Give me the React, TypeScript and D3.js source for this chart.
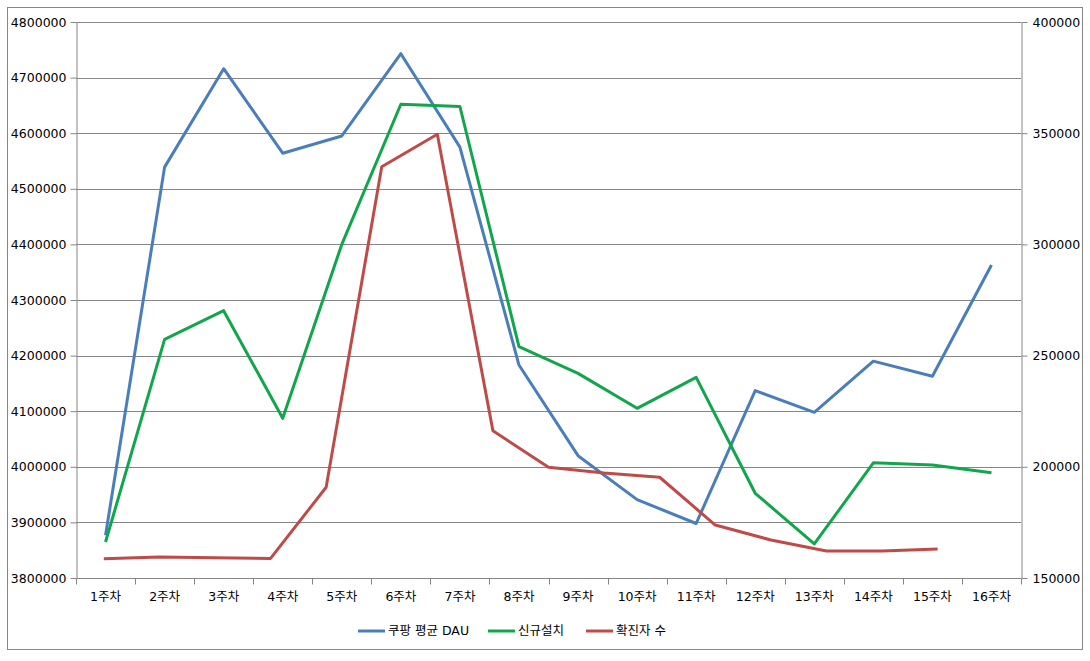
import { useEffect, useRef } from "react";
import * as d3 from "d3";

const WEEKS = [
  "1주차", "2주차", "3주차", "4주차", "5주차", "6주차", "7주차", "8주차",
  "9주차", "10주차", "11주차", "12주차", "13주차", "14주차", "15주차", "16주차",
];

// left axis
const DAU = [
  3877000, 4539000, 4716000, 4564000, 4595000, 4743000, 4575000, 4183000,
  4020000, 3941000, 3898000, 4137000, 4098000, 4190000, 4163000, 4363000,
];

// right axis
const INSTALLS = [
  166200, 257300, 270200, 221800, 300000, 363000, 362000, 254000,
  242000, 226300, 240200, 188100, 165300, 201800, 200800, 197300,
];

// right axis, drawn on a secondary category axis with 17 slots
const CASES = [
  158700, 159400, 159100, 158800, 190800, 334900, 349500, 216200,
  199800, 197200, 195300, 173800, 167100, 162100, 162100, 163000,
];
const CASE_SLOTS = 17;

const LEFT_TICKS = [3800000, 3900000, 4000000, 4100000, 4200000, 4300000, 4400000, 4500000, 4600000, 4700000, 4800000];
const RIGHT_TICKS = [150000, 200000, 250000, 300000, 350000, 400000];

const SERIES = [
  { name: "쿠팡 평균 DAU", color: "#4a7ebb" },
  { name: "신규설치", color: "#12a64c" },
  { name: "확진자 수", color: "#be4b48" },
];

const FONT = "'DejaVu Sans', 'Noto Sans CJK KR', sans-serif";

export default function App() {
  const svgRef = useRef<SVGSVGElement>(null);

  useEffect(() => {
    document.body.style.margin = "0";
    if (!svgRef.current) return;
    const svg = d3.select(svgRef.current);
    svg.selectAll("*").remove();

    const width = 1090;
    const height = 661;
    const margin = { top: 22, right: 69, bottom: 83, left: 76 };
    const gray = "#868686";

    svg.append("rect")
      .attr("x", 7.5).attr("y", 7.5)
      .attr("width", 1075).attr("height", 642)
      .attr("fill", "#fff").attr("stroke", gray).attr("stroke-width", 1);

    const x = d3.scaleBand<string>()
      .domain(WEEKS)
      .range([margin.left, width - margin.right]);

    const xCases = d3.scaleBand<number>()
      .domain(d3.range(CASE_SLOTS))
      .range([margin.left, width - margin.right]);

    const yLeft = d3.scaleLinear()
      .domain([3800000, 4800000])
      .range([height - margin.bottom, margin.top]);

    const yRight = d3.scaleLinear()
      .domain([150000, 400000])
      .range([height - margin.bottom, margin.top]);

    // gridlines
    svg.append("g")
      .selectAll("line")
      .data(LEFT_TICKS.slice(1))
      .join("line")
      .attr("x1", margin.left).attr("x2", width - margin.right)
      .attr("y1", (d) => Math.round(yLeft(d)) + 0.5)
      .attr("y2", (d) => Math.round(yLeft(d)) + 0.5)
      .attr("stroke", gray);

    const styleAxis = (g: d3.Selection<SVGGElement, unknown, null, undefined>) => {
      g.select(".domain").attr("stroke", gray);
      g.selectAll(".tick line").attr("stroke", gray);
      g.selectAll(".tick text").attr("fill", "#000").attr("font-family", FONT).attr("font-size", "12.5px");
    };

    // left axis
    svg.append("g")
      .attr("transform", `translate(${margin.left + 0.5},0)`)
      .call(d3.axisLeft(yLeft).tickValues(LEFT_TICKS).tickFormat((d) => String(d)).tickSize(6).tickSizeOuter(0).tickPadding(4))
      .call(styleAxis)
      .call((g) => g.selectAll(".tick text").attr("text-anchor", "end"));

    // right axis
    svg.append("g")
      .attr("transform", `translate(${width - margin.right + 0.5},0)`)
      .call(d3.axisRight(yRight).tickValues(RIGHT_TICKS).tickFormat((d) => String(d)).tickSize(6).tickSizeOuter(0).tickPadding(5))
      .call(styleAxis);

    // bottom axis
    const xAxis = svg.append("g")
      .attr("transform", `translate(0,${height - margin.bottom + 0.5})`)
      .call(d3.axisBottom(x).tickSize(0).tickPadding(14))
      .call(styleAxis);
    xAxis.select(".domain").remove();
    xAxis.append("line")
      .attr("x1", margin.left).attr("x2", width - margin.right)
      .attr("stroke", gray);
    xAxis.selectAll(".boundary")
      .data(d3.range(WEEKS.length + 1))
      .join("line")
      .attr("class", "boundary")
      .attr("x1", (i) => Math.round(margin.left + i * x.step()) + 0.5)
      .attr("x2", (i) => Math.round(margin.left + i * x.step()) + 0.5)
      .attr("y1", 0).attr("y2", 6)
      .attr("stroke", gray);

    // lines
    const dauLine = d3.line<number>()
      .x((_, i) => x(WEEKS[i])! + x.bandwidth() / 2)
      .y((d) => yLeft(d));
    const installLine = d3.line<number>()
      .x((_, i) => x(WEEKS[i])! + x.bandwidth() / 2)
      .y((d) => yRight(d));
    const caseLine = d3.line<number>()
      .x((_, i) => xCases(i)! + xCases.bandwidth() / 2)
      .y((d) => yRight(d));

    const plots: [number[], d3.Line<number>, string][] = [
      [DAU, dauLine, SERIES[0].color],
      [INSTALLS, installLine, SERIES[1].color],
      [CASES, caseLine, SERIES[2].color],
    ];
    plots.forEach(([vals, gen, color]) => {
      svg.append("path")
        .datum(vals)
        .attr("fill", "none")
        .attr("stroke", color)
        .attr("stroke-width", 3)
        .attr("stroke-linejoin", "round")
        .attr("d", gen);
    });

    // legend
    const legendX = [358, 488, 586];
    const legend = svg.append("g").attr("transform", "translate(0,631)");
    SERIES.forEach((s, i) => {
      legend.append("line")
        .attr("x1", legendX[i]).attr("x2", legendX[i] + 27)
        .attr("stroke", s.color).attr("stroke-width", 3);
      legend.append("text")
        .attr("x", legendX[i] + 30)
        .attr("dy", "0.35em")
        .attr("font-family", FONT)
        .attr("font-size", "12.5px")
        .text(s.name);
    });
  }, []);

  return <svg ref={svgRef} width={1090} height={661} style={{ display: "block" }} />;
}
